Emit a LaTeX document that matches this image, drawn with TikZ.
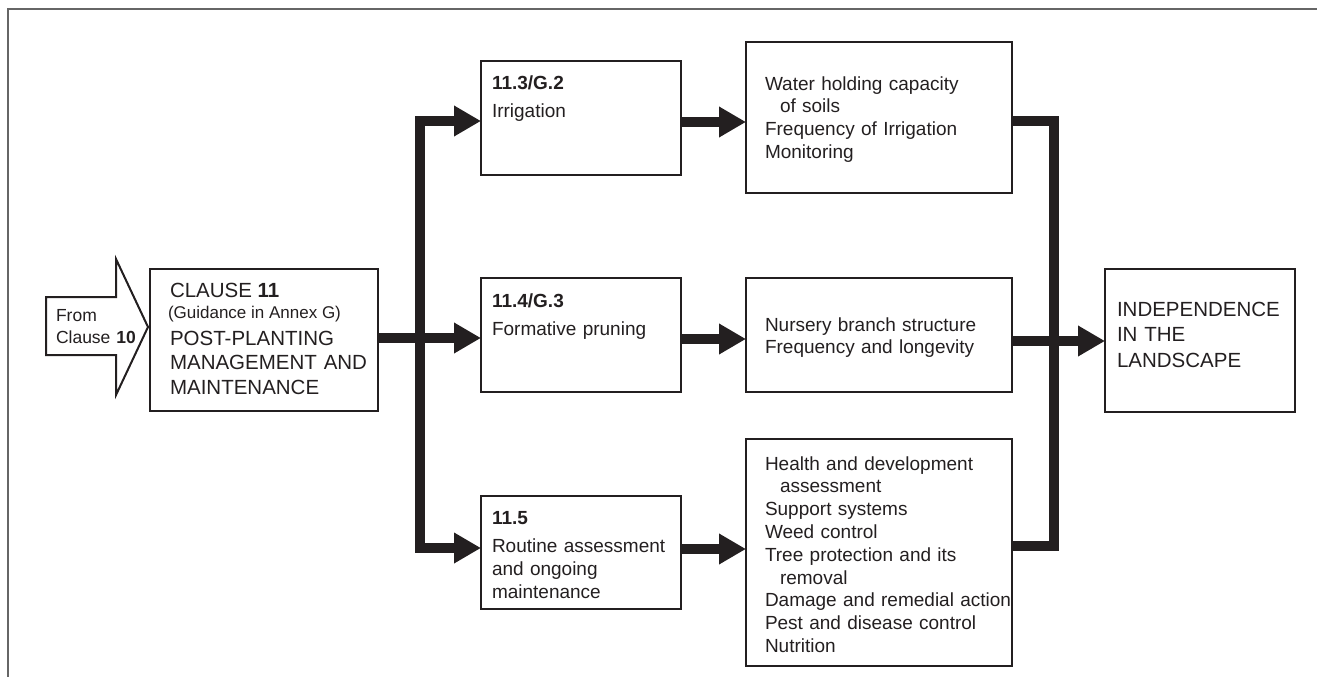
\documentclass[tikz,border=0pt]{standalone}
\usepackage{fontspec}
\setmainfont{Liberation Sans}
\usetikzlibrary{arrows.meta}
\definecolor{ink}{RGB}{35,31,32}
\begin{document}
\begin{tikzpicture}[x=1pt,y=-1pt,
  >={Triangle[length=27pt,width=29pt]},
  box/.style={draw=ink, line width=2pt, inner sep=0pt, outer sep=0pt},
  txt/.style={text=ink, inner sep=0pt, outer sep=0pt, anchor=base west, align=left},
  body/.style={txt, font=\fontsize{19}{22.8}\selectfont, text width=#1},
  body/.default=260pt,
  caps/.style={txt, font=\fontsize{20.5}{24.5}\selectfont},
  flow/.style={draw=ink, line width=10pt, line join=miter},
]
\useasboundingbox (0,0) rectangle (1317,677);

% page frame
\draw[black!60, line width=1.5pt] (8,677) -- (8,9) -- (1317,9);

% incoming block arrow
\draw[draw=ink, line width=2pt, fill=white, line join=miter]
  (46,297) -- (116,297) -- (116,259) -- (148,327) -- (116,395) -- (116,355) -- (46,355) -- cycle;
\node[txt, font=\fontsize{17.5}{22}\selectfont, text width=110pt] (from) at (56,321)
  {From\\Clause \textbf{10}};

% boxes
\node[box, minimum width=228pt, minimum height=142pt] (clause) at (264,340) {};
\node[box, minimum width=200pt, minimum height=114pt] (b113) at (581,118) {};
\node[box, minimum width=200pt, minimum height=114pt] (b114) at (581,335) {};
\node[box, minimum width=200pt, minimum height=113pt] (b115) at (581,552.5) {};
\node[box, minimum width=266pt, minimum height=151pt] (r1) at (879,117.5) {};
\node[box, minimum width=266pt, minimum height=114pt] (r2) at (879,335) {};
\node[box, minimum width=266pt, minimum height=227pt] (r3) at (879,552.5) {};
\node[box, minimum width=190pt, minimum height=143pt] (ind) at (1200,340) {};

% box texts
\node[caps] (cl1) at (170,297) {CLAUSE \textbf{11}};
\node[txt, font=\fontsize{17}{20}\selectfont] (cl2) at (168,318) {(Guidance in Annex G)};
\node[caps, text width=205pt] (cl3) at (170,345) {POST-PLANTING\\MANAGEMENT AND\\MAINTENANCE};

\node[body=185pt] (t113) at (492,89) {\textbf{11.3/G.2}\\[5.2pt]Irrigation};
\node[body=185pt] (t114) at (492,307) {\textbf{11.4/G.3}\\[5.2pt]Formative pruning};
\node[body=185pt] (t115) at (492,524) {\textbf{11.5}\\[6pt]Routine assessment\\and ongoing\\maintenance};

\node[body] (tr1) at (765,90) {Water holding capacity\\\hspace*{15pt}of soils\\Frequency of Irrigation\\Monitoring};
\node[body] (tr2) at (765,331) {Nursery branch structure\\Frequency and longevity};
\node[body] (tr3) at (765,470) {Health and development\\\hspace*{15pt}assessment\\Support systems\\Weed control\\Tree protection and its\\\hspace*{15pt}removal\\Damage and remedial action\\Pest and disease control\\Nutrition};

\node[caps, text width=180pt, font=\fontsize{20.5}{25.5}\selectfont] (tind) at (1117,316)
  {INDEPENDENCE\\IN THE\\LANDSCAPE};

% split into the three sections
\coordinate (split) at (420,338);
\draw[flow, ->] (clause.east |- split) -- (b114.west |- split);
\draw[flow, <->] (b113.west |- 0,121) -| (split) |- (b115.west |- 0,548);

% section to topics
\draw[flow, ->] (b113.east |- 0,122) -- (r1.west |- 0,122);
\draw[flow, ->] (b114.east |- 0,339) -- (r2.west |- 0,339);
\draw[flow, ->] (b115.east |- 0,549) -- (r3.west |- 0,549);

% merge into the outcome
\coordinate (merge) at (1054,341);
\draw[flow] (r1.east |- 0,121) -| (merge) |- (r3.east |- 0,546);
\draw[flow, ->] (r2.east |- merge) -- (ind.west |- merge);
\end{tikzpicture}
\end{document}
